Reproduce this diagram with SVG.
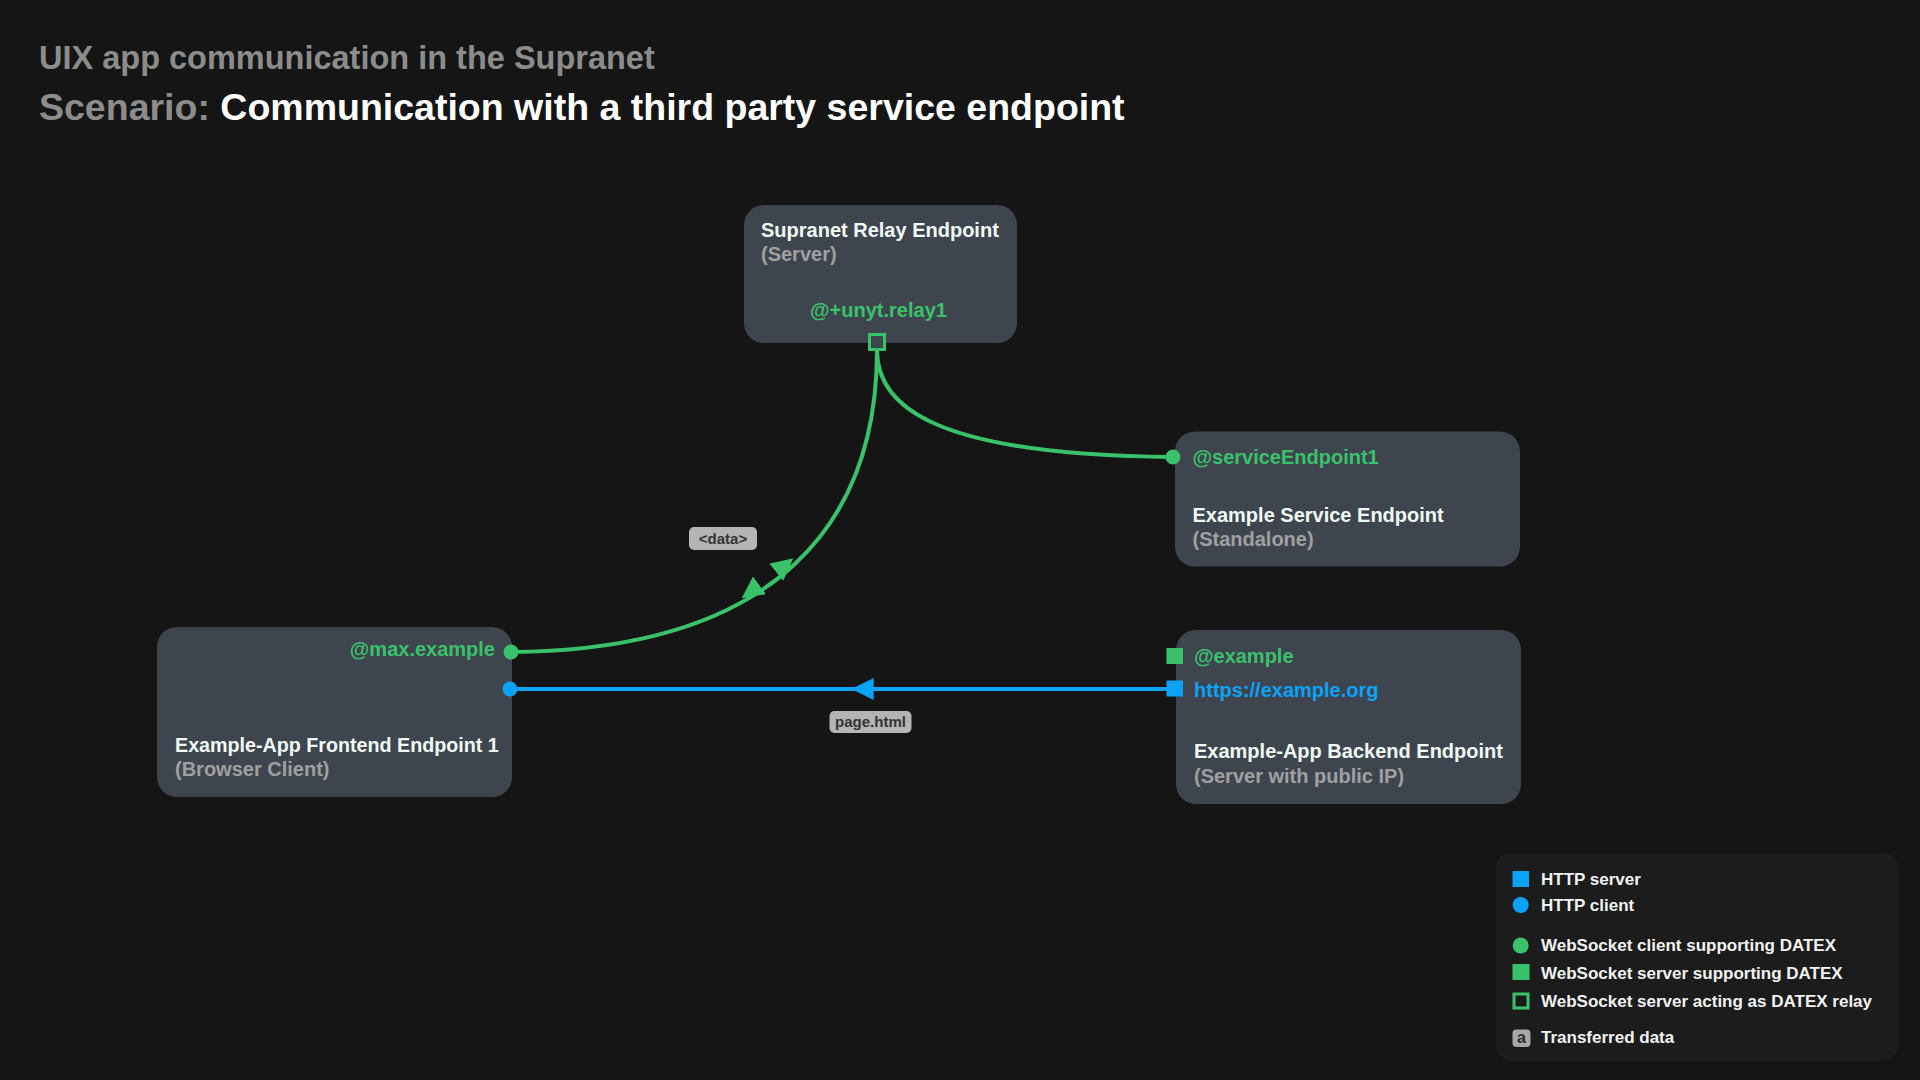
<svg xmlns="http://www.w3.org/2000/svg" width="1920" height="1080" viewBox="0 0 1920 1080">
  <style>
    text { font-family: "Liberation Sans", Arial, Helvetica, sans-serif; font-weight: bold; }
    .t1 { font-size: 32.5px; fill: #8c8c8c; }
    .t2 { font-size: 37.5px; fill: #8c8c8c; }
    .t2w { fill: #ffffff; }
    .node { fill: #3f454f; }
    .name { font-size: 20px; fill: #effaf4; }
    .sub { font-size: 20px; fill: #a0a0a0; }
    .gtx { font-size: 20px; fill: #3ac26a; }
    .btx { font-size: 20px; fill: #0ba3f7; }
    .gline { fill: none; stroke: #3ac26a; stroke-width: 4; }
    .bline { fill: none; stroke: #0ba3f7; stroke-width: 4; }
    .lbl { fill: #b4b4b4; }
    .lbltx { font-size: 15px; fill: #333333; text-anchor: middle; }
    .leg { font-size: 17px; fill: #f2f2f2; }
    .green { fill: #3ac26a; }
    .blue { fill: #0ba3f7; }
  </style>
  <defs>
    <marker id="arrG" markerUnits="userSpaceOnUse" viewBox="0 0 22 22" markerWidth="22" markerHeight="22" refX="22" refY="11" orient="auto">
      <path d="M0,0 L22,11 L0,22 z" fill="#3ac26a"/>
    </marker>
    <marker id="arrB" markerUnits="userSpaceOnUse" viewBox="0 0 22 22" markerWidth="22" markerHeight="22" refX="22" refY="11" orient="auto">
      <path d="M0,0 L22,11 L0,22 z" fill="#0ba3f7"/>
    </marker>
  </defs>
  <rect x="0" y="0" width="1920" height="1080" fill="#151515"/>

  <g id="title">
    <text class="t1" x="39" y="69">UIX app communication in the Supranet</text>
    <text class="t2" x="39" y="120">Scenario: <tspan class="t2w">Communication with a third party service endpoint</tspan></text>
  </g>

  <g id="connectors">
    <path class="gline" d="M 877 350 C 877 400, 920 455, 1173 457"/>
    <path class="gline" d="M 877 350 C 877 520, 780 650, 511 652"/>
    <path d="M 770 577.4 L 793.3 558.3" fill="none" stroke="none" marker-end="url(#arrG)"/>
    <path d="M 763 582.8 L 741.7 598.3" fill="none" stroke="none" marker-end="url(#arrG)"/>
    <path class="bline" d="M 1175 689 L 510 689"/>
    <path d="M 880 689 L 851.7 689" fill="none" stroke="none" marker-end="url(#arrB)"/>
    <g id="label-data">
      <rect class="lbl" x="689" y="527" width="68" height="23" rx="5"/>
      <text class="lbltx" x="723" y="543.5">&lt;data&gt;</text>
    </g>
    <g id="label-page">
      <rect class="lbl" x="829.5" y="711" width="82" height="22" rx="5"/>
      <text class="lbltx" x="870.5" y="727">page.html</text>
    </g>
  </g>

  <g id="relay">
    <rect class="node" x="744" y="205" width="273" height="138" rx="20"/>
    <text class="name" x="761" y="236.5">Supranet Relay Endpoint</text>
    <text class="sub" x="761" y="261">(Server)</text>
    <text class="gtx" x="878.5" y="317" text-anchor="middle">@+unyt.relay1</text>
    <rect x="869.5" y="334.5" width="15" height="15" fill="#3f454f" stroke="#3ac26a" stroke-width="3"/>
  </g>

  <g id="service">
    <rect class="node" x="1175" y="431.5" width="345" height="135" rx="20"/>
    <text class="gtx" x="1192.5" y="464">@serviceEndpoint1</text>
    <text class="name" x="1192.5" y="522">Example Service Endpoint</text>
    <text class="sub" x="1192.5" y="546">(Standalone)</text>
    <circle class="green" cx="1173" cy="457" r="7.5"/>
  </g>

  <g id="frontend">
    <rect class="node" x="157" y="627" width="355" height="170" rx="20"/>
    <text class="gtx" x="495" y="656" text-anchor="end">@max.example</text>
    <text class="name" x="175" y="752" style="font-size:19.7px">Example-App Frontend Endpoint 1</text>
    <text class="sub" x="175" y="776">(Browser Client)</text>
    <circle class="green" cx="511" cy="652" r="7.5"/>
    <circle class="blue" cx="510" cy="689" r="7.5"/>
  </g>

  <g id="backend">
    <rect class="node" x="1176" y="630" width="345" height="174" rx="20"/>
    <text class="gtx" x="1194" y="662.5">@example</text>
    <text class="btx" x="1194" y="696.5">https://example.org</text>
    <text class="name" x="1194" y="758">Example-App Backend Endpoint</text>
    <text class="sub" x="1194" y="782.5">(Server with public IP)</text>
    <rect class="green" x="1166.5" y="648" width="16.5" height="16"/>
    <rect class="blue" x="1166.5" y="680.5" width="16.5" height="16"/>
  </g>

  <g id="legend">
    <rect x="1496" y="853" width="402" height="208" rx="15" fill="#1c1c1c"/>
    <rect class="blue" x="1512.5" y="871" width="16.5" height="16"/>
    <text class="leg" x="1541" y="885">HTTP server</text>
    <circle class="blue" cx="1520.7" cy="905" r="8"/>
    <text class="leg" x="1541" y="911">HTTP client</text>
    <circle class="green" cx="1520.7" cy="945.5" r="8"/>
    <text class="leg" x="1541" y="950.5">WebSocket client supporting DATEX</text>
    <rect class="green" x="1512.5" y="964" width="17" height="16"/>
    <text class="leg" x="1541" y="978.5">WebSocket server supporting DATEX</text>
    <rect x="1514" y="994" width="14" height="14" fill="none" stroke="#3ac26a" stroke-width="3"/>
    <text class="leg" x="1541" y="1007">WebSocket server acting as DATEX relay</text>
    <rect x="1512.5" y="1029.5" width="18" height="17.5" rx="4" fill="#a8a8a8"/>
    <text x="1521.5" y="1043" font-size="16" fill="#2a2a2a" text-anchor="middle">a</text>
    <text class="leg" x="1541" y="1043">Transferred data</text>
  </g>
</svg>
